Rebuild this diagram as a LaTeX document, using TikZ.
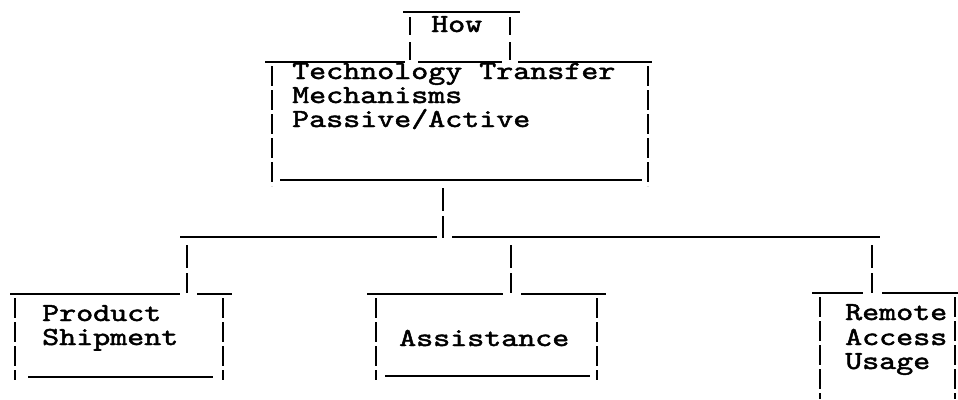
\documentclass[tikz,border=0pt]{standalone}
\usepackage{fontspec}
\usepackage{graphicx}
\newfontfamily\typefont{lmmono10-regular.otf}[FakeBold=1.6]
\tikzset{
  rule/.style={line width=2.8pt, line cap=butt},
  vbar/.style={line width=1.8pt, dash pattern=on 20pt off 4pt},
  vbartwo/.style={line width=1.8pt, dash pattern=on 23pt off 5pt},
  lbl/.style={anchor=base west, inner sep=0pt, font=\typefont\fontsize{32.4}{36}\selectfont},
}
\newcommand\tline[1]{\scalebox{1}[0.8]{#1}}
\begin{document}
\begin{tikzpicture}[x=1pt,y=-1pt]
\useasboundingbox (0,0) rectangle (958,399);
% ---- How box
\node[lbl] (how) at (431,32) {\tline{How}};
\draw[rule] (403,12) -- (520,12);
\draw[vbar] (410,17) -- (410,35);
\draw[vbar] (410,42) -- (410,60);
\draw[vbar] (510,17) -- (510,35);
\draw[vbar] (510,42) -- (510,60);
\draw[rule] (418,62) -- (502,62);
% ---- main box
\node[lbl] (tech) at (292,79) {\tline{Technology Transfer}};
\node[lbl] (mech) at (292,103) {\tline{Mechanisms}};
\node[lbl] (pass) at (292,127) {\tline{Passive/Active}};
\draw[rule] (265,62) -- (405,62);
\draw[rule] (518,62) -- (652,62);
\draw[vbar] (272,66) -- (272,186);
\draw[vbar] (648,66) -- (648,186);
\draw[rule] (280,180) -- (642,180);
% ---- connector and bus
\coordinate (mainB) at (443,188);
\coordinate (busJ) at (443,238);
\draw[vbartwo] (mainB) -- (busJ);
\coordinate (busL) at (180,237);
\coordinate (busLe) at (437,237);
\coordinate (busRs) at (452,237);
\coordinate (busR) at (880,237);
\draw[rule] (busL) -- (busLe);
\draw[rule] (busRs) -- (busR);
% ---- drops
\coordinate (d1a) at (187,245); \coordinate (d1b) at (187,293);
\coordinate (d2a) at (511,245); \coordinate (d2b) at (511,293);
\coordinate (d3a) at (872,245); \coordinate (d3b) at (872,293);
\draw[vbartwo] (d1a) -- (d1b);
\draw[vbartwo] (d2a) -- (d2b);
\draw[vbartwo] (d3a) -- (d3b);
% ---- Product box
\node[lbl] (prod) at (42,321) {\tline{Product}};
\node[lbl] (ship) at (42,345) {\tline{Shipment}};
\draw[rule] (10,294) -- (180,294);
\draw[rule] (197,294) -- (232,294);
\draw[vbar] (15,298) -- (15,380);
\draw[vbar] (223,298) -- (223,380);
\draw[rule] (28,377) -- (213,377);
% ---- Assistance box
\node[lbl] (assist) at (399,346) {\tline{Assistance}};
\draw[rule] (367,294) -- (503,294);
\draw[rule] (521,294) -- (606,294);
\draw[vbar] (376,298) -- (376,380);
\draw[vbar] (597,298) -- (597,380);
\draw[rule] (385,376) -- (590,376);
% ---- Remote box
\node[lbl] (remote) at (845,320) {\tline{Remote}};
\node[lbl] (access) at (845,345) {\tline{Access}};
\node[lbl] (usage) at (845,369) {\tline{Usage}};
\draw[rule] (812,293) -- (863,293);
\draw[rule] (882,293) -- (958,293);
\draw[vbar] (820,297) -- (820,399);
\draw[vbar] (955,297) -- (955,399);
\end{tikzpicture}
\end{document}
